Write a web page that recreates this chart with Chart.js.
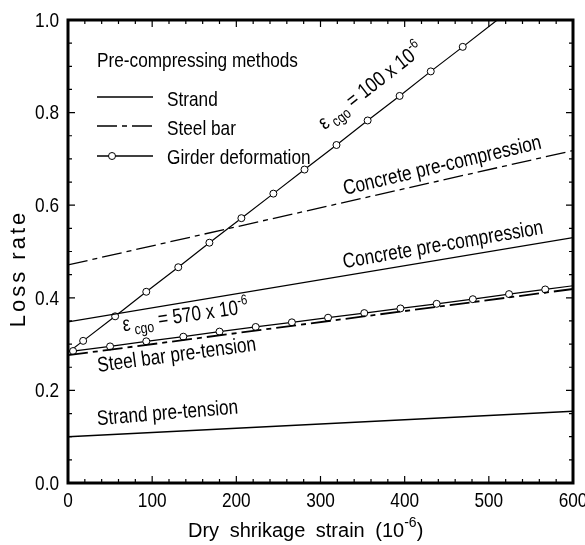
<!DOCTYPE html>
<html>
<head>
<meta charset="utf-8">
<title>Loss rate vs dry shrinkage strain</title>
<script src="https://cdn.jsdelivr.net/npm/chart.js@4.4.1/dist/chart.umd.min.js"></script>
<style>
  html, body { margin: 0; padding: 0; background: #fff; }
</style>
</head>
<body>
<canvas id="lossChart" width="585" height="545"></canvas>
<script>
// values (x: dry shrinkage strain in 10^-6, y: loss rate)
const xStep = 100, xMinorStep = 20;
const yStep = 0.2, yMinorStep = 0.05;

// strand pre-tension (solid)
const strandPreX = [0, 600];
const strandPreY = [0.100, 0.155];

// steel bar pre-tension (dash-dot)
const steelPreX = [0, 600];
const steelPreY = [0.276, 0.419];

// concrete pre-compression with strand (solid)
const strandConcX = [0, 600];
const strandConcY = [0.348, 0.530];

// concrete pre-compression with steel bar (dash-dot)
const steelConcX = [0, 600];
const steelConcY = [0.471, 0.718];

// girder deformation, e_cgo = 570 x 10^-6 (first and last points have no marker)
const girder570X = [0, 6, 50, 93, 137, 180, 223, 266, 309, 352, 395, 438, 481, 524, 567, 600];
const girder570Y = [0.284, 0.285, 0.295, 0.306, 0.316, 0.327, 0.337, 0.347, 0.357, 0.367, 0.377, 0.387, 0.397, 0.408, 0.418, 0.426];

// girder deformation, e_cgo = 100 x 10^-6
const girder100X = [0, 18, 56, 93, 131, 168, 206, 244, 281, 319, 356, 394, 431, 469, 510];
const girder100Y = [0.282, 0.307, 0.360, 0.413, 0.466, 0.519, 0.572, 0.625, 0.677, 0.730, 0.783, 0.836, 0.889, 0.942, 1.000];

const SANS = "'Liberation Sans', Arial, sans-serif";
const SQUEEZE = 0.82;  // the figure uses a narrow face; squeeze Liberation Sans to match
const DASHDOT = [20, 5, 5, 5];

function pts(xs, ys) {
    return xs.map((x, i) => ({ x: x, y: ys[i] }));
}

// no marker on the two ends of a girder line
function endsHidden(c) {
    return (c.dataIndex === 0 || c.dataIndex === c.dataset.data.length - 1) ? 0 : 3.5;
}

function narrowText(ctx, text, x, y, size, align, baseline) {
    ctx.save();
    ctx.translate(x, y);
    ctx.scale(SQUEEZE, 1);
    ctx.font = size + 'px ' + SANS;
    ctx.textAlign = align;
    ctx.textBaseline = baseline;
    ctx.fillText(text, 0, 0);
    ctx.restore();
}

function richText(ctx, x, y, angle, parts) {
    ctx.save();
    ctx.translate(x, y);
    ctx.rotate(angle * Math.PI / 180);
    ctx.scale(SQUEEZE, 1);
    ctx.textAlign = 'left';
    ctx.textBaseline = 'alphabetic';
    let cx = 0;
    parts.forEach(p => {
        ctx.font = (p.size || 21) + 'px ' + SANS;
        ctx.fillText(p.t, cx, p.dy || 0);
        cx += ctx.measureText(p.t).width;
    });
    ctx.restore();
}

// labels along the lines: [x value, y value, angle, parts]
const lineLabels = [
    [305, 0.762, -38, [{ t: 'ε' }, { t: ' cgo', size: 15, dy: 5 }, { t: ' = 100 x 10' }, { t: '-6', size: 14, dy: -9 }]],
    [329, 0.622, -13.3, [{ t: 'Concrete pre-compression' }]],
    [328, 0.464, -9.8, [{ t: 'Concrete pre-compression' }]],
    [66, 0.328, -8.3, [{ t: 'ε' }, { t: ' cgo', size: 15, dy: 5 }, { t: ' = 570 x 10' }, { t: '-6', size: 14, dy: -9 }]],
    [36, 0.240, -7.7, [{ t: 'Steel bar pre-tension' }]],
    [35, 0.125, -4.7, [{ t: 'Strand pre-tension' }]]
];

const decorations = {
    id: 'decorations',
    afterDraw(chart) {
        const { ctx, chartArea: a, scales: { x, y } } = chart;
        ctx.save();
        ctx.strokeStyle = '#000';
        ctx.fillStyle = '#000';

        // inward ticks on all four sides
        ctx.lineWidth = 1.2;
        ctx.beginPath();
        for (let i = 0; i <= 600 / xMinorStep; i++) {
            const v = i * xMinorStep;
            const px = x.getPixelForValue(v);
            const len = (v % xStep === 0) ? 7 : 4;
            ctx.moveTo(px, a.bottom); ctx.lineTo(px, a.bottom - len);
            ctx.moveTo(px, a.top); ctx.lineTo(px, a.top + len);
        }
        for (let i = 0; i <= Math.round(1 / yMinorStep); i++) {
            const py = y.getPixelForValue(i * yMinorStep);
            const len = (i % 4 === 0) ? 7 : 4;
            ctx.moveTo(a.left, py); ctx.lineTo(a.left + len, py);
            ctx.moveTo(a.right, py); ctx.lineTo(a.right - len, py);
        }
        ctx.stroke();

        ctx.lineWidth = 3;
        ctx.strokeRect(a.left, a.top, a.right - a.left, a.bottom - a.top);

        // tick labels, taken from the scales
        x.ticks.forEach(t => {
            narrowText(ctx, String(t.value), x.getPixelForValue(t.value), a.bottom + 8, 21, 'center', 'top');
        });
        y.ticks.forEach(t => {
            narrowText(ctx, t.value.toFixed(1), a.left - 9, y.getPixelForValue(t.value) + 1, 21, 'right', 'middle');
        });

        // legend
        const lx = a.left + 29, tx = a.left + 99;
        narrowText(ctx, 'Pre-compressing methods', lx, a.top + 47, 21, 'left', 'alphabetic');
        ctx.lineWidth = 1.3;
        ctx.beginPath(); ctx.moveTo(lx, a.top + 77); ctx.lineTo(lx + 56, a.top + 77); ctx.stroke();
        ctx.setLineDash(DASHDOT);
        ctx.beginPath(); ctx.moveTo(lx, a.top + 106); ctx.lineTo(lx + 58, a.top + 106); ctx.stroke();
        ctx.setLineDash([]);
        ctx.beginPath(); ctx.moveTo(lx, a.top + 136); ctx.lineTo(lx + 56, a.top + 136); ctx.stroke();
        ctx.beginPath(); ctx.arc(lx + 15, a.top + 136, 3.5, 0, Math.PI * 2);
        ctx.fillStyle = '#fff'; ctx.fill(); ctx.lineWidth = 1; ctx.stroke();
        ctx.fillStyle = '#000';
        narrowText(ctx, 'Strand', tx, a.top + 86, 21, 'left', 'alphabetic');
        narrowText(ctx, 'Steel bar', tx, a.top + 115, 21, 'left', 'alphabetic');
        narrowText(ctx, 'Girder deformation', tx, a.top + 144, 21, 'left', 'alphabetic');

        lineLabels.forEach(l => {
            richText(ctx, x.getPixelForValue(l[0]), y.getPixelForValue(l[1]), l[2], l[3]);
        });

        // axis titles
        ctx.save();
        ctx.translate(19, (a.top + a.bottom) / 2 + 17);
        ctx.rotate(-Math.PI / 2);
        ctx.font = '22px ' + SANS;
        ctx.letterSpacing = '3px';
        ctx.textAlign = 'center';
        ctx.textBaseline = 'middle';
        ctx.fillText('Loss rate', 0, 0);
        ctx.restore();

        ctx.font = '20px ' + SANS;
        ctx.wordSpacing = '5px';
        ctx.textAlign = 'left';
        ctx.textBaseline = 'alphabetic';
        let cx = 188;
        const by = a.bottom + 54;
        ctx.fillText('Dry shrikage strain (10', cx, by);
        cx += ctx.measureText('Dry shrikage strain (10').width;
        ctx.wordSpacing = '0px';
        ctx.font = '14px ' + SANS;
        ctx.fillText('-6', cx, by - 10);
        cx += ctx.measureText('-6').width;
        ctx.font = '20px ' + SANS;
        ctx.fillText(')', cx, by);
        ctx.restore();
    }
};

function lineSet(xs, ys, width, dash, withMarks) {
    return {
        data: pts(xs, ys),
        showLine: true,
        borderColor: '#000',
        borderWidth: width,
        borderDash: dash,
        pointRadius: withMarks ? endsHidden : 0,
        pointHoverRadius: 0,
        pointBackgroundColor: '#fff',
        pointBorderColor: '#000',
        pointBorderWidth: 1,
        fill: false,
        tension: 0
    };
}

new Chart(document.getElementById('lossChart'), {
    type: 'scatter',
    data: {
        datasets: [
            lineSet(strandPreX, strandPreY, 1.6, [], false),
            lineSet(steelPreX, steelPreY, 1.8, DASHDOT, false),
            lineSet(strandConcX, strandConcY, 1.3, [], false),
            lineSet(steelConcX, steelConcY, 1.3, DASHDOT, false),
            lineSet(girder570X, girder570Y, 1.2, [], true),
            lineSet(girder100X, girder100Y, 1.2, [], true)
        ]
    },
    options: {
        responsive: false,
        animation: false,
        layout: { padding: { top: 20, right: 12, left: 0, bottom: 0 } },
        plugins: { legend: { display: false }, tooltip: { enabled: false } },
        scales: {
            x: {
                type: 'linear', min: 0, max: 600,
                grid: { display: false }, border: { display: false },
                ticks: { display: false, stepSize: xStep, autoSkip: false },
                afterFit: s => { s.height = 62; s.paddingLeft = 0; s.paddingRight = 0; }
            },
            y: {
                min: 0, max: 1,
                grid: { display: false }, border: { display: false },
                ticks: { display: false, stepSize: yStep },
                afterFit: s => { s.width = 68; }
            }
        }
    },
    plugins: [decorations]
});
</script>
</body>
</html>
